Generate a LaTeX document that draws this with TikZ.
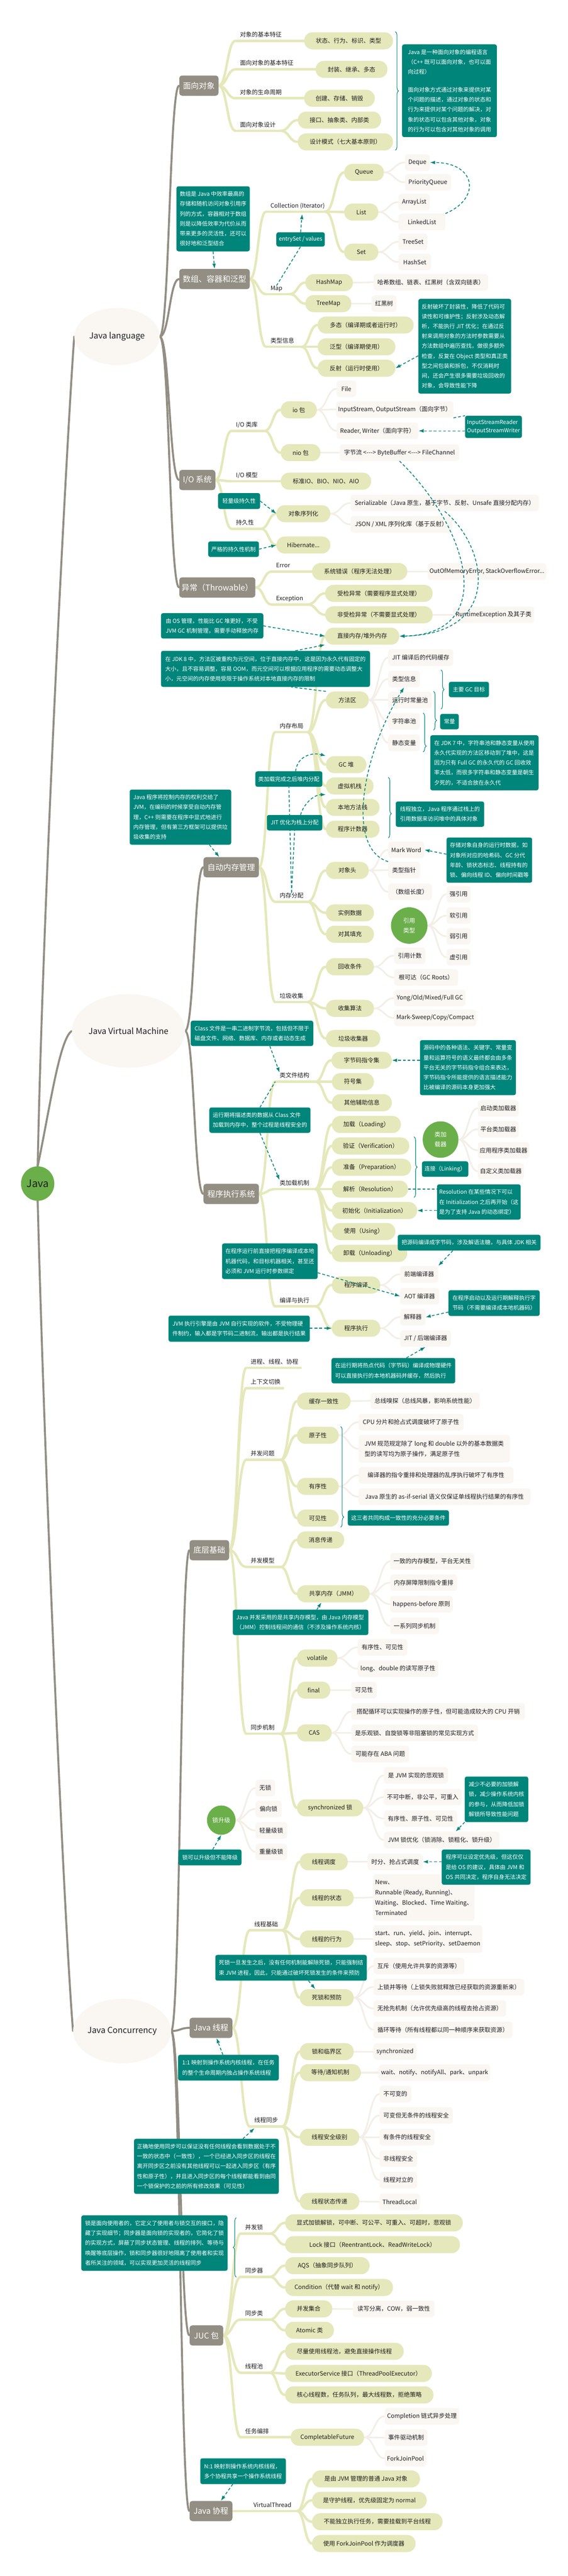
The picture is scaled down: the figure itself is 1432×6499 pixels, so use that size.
\documentclass[tikz,border=0pt]{standalone}
\usepackage{fontspec}
\setmainfont{Noto Sans CJK SC}
\usetikzlibrary{calc,arrows.meta,decorations.pathreplacing,shapes.geometric}
\definecolor{cgray}{HTML}{938E83}
\definecolor{cyel}{HTML}{E5E8BA}
\definecolor{cbei}{HTML}{FAF7F3}
\definecolor{cbeil}{HTML}{F3EEE7}
\definecolor{cteal}{HTML}{00857A}
\definecolor{cgreen}{HTML}{6BAF4B}
\definecolor{ctext}{HTML}{1E1E1E}
\pgfdeclarelayer{bg}
\pgfdeclarelayer{dash}
\pgfdeclarelayer{top}
\pgfsetlayers{bg,main,dash,top}
\newcommand\zY[6][]{\pgfmathsetmacro\myw{#4-#3}\pgfmathsetmacro\myx{(#3+#4)/2}\node[ybox,minimum width=\myw pt,#1] (#2) at (\myx,#5) {#6};}
\newcommand\zB[6][]{\pgfmathsetmacro\myw{#4-#3}\pgfmathsetmacro\myx{(#3+#4)/2}\node[bbox,minimum width=\myw pt,#1] (#2) at (\myx,#5) {#6};}
\newcommand\zG[6][]{\pgfmathsetmacro\myw{#4-#3}\pgfmathsetmacro\myx{(#3+#4)/2}\node[gbox,minimum width=\myw pt,#1] (#2) at (\myx,#5) {#6};}
\newcommand\zT[7][]{\pgfmathsetmacro\myw{#4-#3}\pgfmathsetmacro\myh{#6-#5}\pgfmathsetmacro\myx{(#3+#4)/2}\pgfmathsetmacro\myy{(#5+#6)/2}\node[tbox,minimum width=\myw pt,minimum height=\myh pt,#1] (#2) at (\myx,\myy) {#7};}
\newcommand\zL[5]{\coordinate (#1s) at (#2,#4);\coordinate (#1e) at (#3,#4);\node[lbl] (#1) at (#2+11,#4-10) {#5};}
\newcommand\cnx[3][yl]{\draw[#1] let \p1=(#2),\p2=(#3) in (\p1) .. controls ({0.5*\x1+0.5*\x2},\y1) and ({0.5*\x1+0.5*\x2},\y2) .. (\p2);}
\begin{document}
\begin{tikzpicture}[x=1pt,y=-1pt,
  ybox/.style={fill=cyel,rounded corners=21pt,minimum height=43pt,inner xsep=5pt,inner ysep=2pt,text=ctext,font=\fontsize{15}{19}\selectfont,align=center},
  bbox/.style={fill=cbei,rounded corners=8pt,minimum height=42pt,inner xsep=5pt,inner ysep=2pt,text=ctext,font=\fontsize{15}{26}\selectfont,align=left},
  gbox/.style={fill=cgray,rounded corners=7pt,minimum height=51pt,inner xsep=4pt,text=white,font=\fontsize{20}{24}\selectfont},
  tbox/.style={fill=cteal,rounded corners=5pt,inner xsep=5pt,inner ysep=3pt,text=white,font=\fontsize{14}{25}\selectfont,align=left},
  lbl/.style={anchor=base west,inner sep=0pt,text=ctext,font=\fontsize{15}{18}\selectfont},
  gcirc/.style={ellipse,fill=cgreen,text=white,inner sep=0pt,font=\fontsize{15}{25}\selectfont,align=center},
  bigc/.style={ellipse,fill=cbei,inner sep=0pt,text=ctext,font=\fontsize{21}{25}\selectfont},
  yl/.style={draw=cyel,line width=6pt,line cap=round},
  bl/.style={draw=cbeil,line width=4pt,line cap=round},
  gl/.style={draw=cgray,line width=5pt,line cap=round},
  tdash/.style={draw=cteal,line width=2pt,dash pattern=on 7pt off 5pt},
  tarr/.style={tdash,-{Latex[length=13pt,width=9pt]}},
  tbrace/.style={draw=cteal,line width=1.4pt,decorate,decoration={brace,amplitude=8pt,#1}},
  tbrace/.default={aspect=0.5}
]
\begin{pgfonlayer}{bg}
\fill[white] (0,0) rectangle (1432,6499);
\end{pgfonlayer}
\useasboundingbox (0,0) rectangle (1432,6499);

% ---------- root and level 1 ----------
\node[gcirc,minimum width=84pt,minimum height=87pt,text=ctext,font=\fontsize{26}{30}\selectfont] (java) at (95,2986) {Java};
\node[bigc,minimum width=215pt,minimum height=144pt] (jl) at (295,849) {Java language};
\node[bigc,minimum width=274pt,minimum height=186pt] (jvm) at (324,2601) {Java Virtual Machine};
\node[bigc,minimum width=242pt,minimum height=163pt] (jc) at (308,5124) {Java Concurrency};

% ---------- level 2 ----------
\zG{oo}{452}{551}{216}{面向对象}
\zG{arr}{452}{630}{704}{数组、容器和泛型}
\zG{io}{452}{543}{1211}{I/O 系统}
\zG{exc}{452}{644}{1482}{异常（Throwable）}
\zG{mem}{513}{653}{2188}{自动内存管理}
\zG{exe}{513}{653}{3012}{程序执行系统}
\zG{base}{478}{578}{3911}{底层基础}
\zG{thr}{478}{586}{5116}{Java 线程}
\zG{juc}{478}{563}{5892}{JUC 包}
\zG{coro}{478}{586}{6335}{Java 协程}

% ---------- OO ----------
\zL{l11}{594}{767}{103}{对象的基本特征}
\zL{l12}{594}{796}{175}{面向对象的基本特征}
\zL{l13}{594}{767}{248}{对象的生命周期}
\zL{l14}{594}{708}{330}{面向对象设计}
\zY{c11}{767}{991}{103}{状态、行为、标识、类型}
\zY{c12}{796}{977}{175}{封装、继承、多态}
\zY{c13}{767}{945}{248}{创建、存储、销毁}
\zY{c14a}{751}{961}{303}{接口、抽象类、内部类}
\zY{c14b}{751}{991}{358}{设计模式（七大基本原则）}

% ---------- arrays ----------
\zL{lcol}{671}{820}{534}{Collection (Iterator)}
\zL{lmap}{671}{731}{742}{Map}
\zL{ltype}{671}{760}{875}{类型信息}
\coordinate (lcolm) at (762,540);
\zY{q}{868}{968}{435}{Queue}
\zY{lst}{868}{954}{535}{List}
\zY{st}{868}{954}{636}{Set}
\zB{dq}{1021}{1084}{410}{Deque}
\zB{pq}{1021}{1137}{460}{PriorityQueue}
\zB{al}{1005}{1084}{510}{ArrayList}
\zB{ll}{1005}{1123}{560}{LinkedList}
\zB{ts}{1005}{1078}{610}{TreeSet}
\zB{hs}{1005}{1087}{661}{HashSet}
\zY{hm}{770}{890}{713}{HashMap}
\zY{tm}{770}{886}{766}{TreeMap}
\zB{hmx}{942}{1231}{712}{哈希数组、链表、红黑树（含双向链表）}
\zB{tmx}{937}{1000}{766}{红黑树}
\zY{dt}{801}{1043}{820}{多态（编译期或者运行时）}
\zY{fx}{801}{997}{875}{泛型（编译期使用）}
\zY{fs}{801}{997}{929}{反射（运行时使用）}

% ---------- IO ----------
\zL{liolib}{584}{667}{1087}{I/O 类库}
\zL{liom}{584}{708}{1214}{I/O 模型}
\zL{lpers}{584}{658}{1334}{持久性}
\zY{iob}{708}{799}{1034}{io 包}
\zY{niob}{708}{808}{1142}{nio 包}
\zB{file}{849}{898}{981}{File}
\zB{ios}{849}{1142}{1033}{InputStream, OutputStream（面向字节）}
\zB{rw}{849}{1055}{1087}{Reader, Writer（面向字符）}
\zB{nio}{857}{1158}{1142}{字节流 <-{}-{}-> ByteBuffer <-{}-{}-> FileChannel}
\zY{iom}{708}{936}{1214}{标准IO、BIO、NIO、AIO}
\zY{ser}{697}{833}{1296}{对象序列化}
\zY{hib}{697}{833}{1375}{Hibernate...}
\zB{serx}{884}{1359}{1269}{Serializable（Java 原生，基于字节、反射、Unsafe 直接分配内存）}
\zB{json}{884}{1140}{1323}{JSON / XML 序列化库（基于反射）}

% ---------- exceptions ----------
\zL{lerr}{685}{787}{1442}{Error}
\zL{lexc}{685}{776}{1525}{Exception}
\zY{err}{787}{1027}{1442}{系统错误（程序无法处理）}
\zB{oom}{1079}{1377}{1442}{OutOfMemoryError, StackOverflowError...}
\zY{chk}{820}{1091}{1497}{受检异常（需要程序显式处理）}
\zY{unchk}{820}{1091}{1551}{非受检异常（不需要显式处理）}
\zB{rte}{1142}{1347}{1551}{RuntimeException 及其子类}

% ---------- memory ----------
\zL{llay}{694}{776}{1847}{内存布局}
\zL{lalloc}{694}{776}{2275}{内存分配}
\zL{lgc}{694}{776}{2528}{垃圾收集}
\zY{dm}{820}{1007}{1605}{直接内存/堆外内存}
\zY{ma}{822}{930}{1766}{方法区}
\zB{jit}{979}{1143}{1659}{JIT 编译后的代码缓存}
\zB{ti}{979}{1059}{1713}{类型信息}
\zB{rcp}{979}{1089}{1766}{运行时常量池}
\zB{sp}{979}{1059}{1820}{字符串池}
\zB{sv}{979}{1059}{1874}{静态变量}
\zY{heap}{822}{924}{1929}{GC 堆}
\zY{vms}{822}{942}{1983}{虚拟机栈}
\zY{nms}{822}{957}{2037}{本地方法栈}
\zY{pc}{822}{957}{2092}{程序计数器}
\zY{oh}{822}{930}{2196}{对象头}
\zB{mw}{979}{1070}{2144}{Mark Word}
\zB{tp}{979}{1059}{2195}{类型指针}
\zB{alen}{979}{1089}{2250}{（数组长度）}
\zY{idata}{822}{943}{2303}{实例数据}
\zY{pad}{822}{943}{2357}{对其填充}
\node[gcirc,minimum width=92pt,minimum height=92pt] (ref) at (1032,2335) {引用\\类型};
\zB{sr}{1126}{1187}{2256}{强引用}
\zB{wr1}{1126}{1187}{2310}{软引用}
\zB{wr2}{1126}{1187}{2362}{弱引用}
\zB{pr}{1126}{1187}{2415}{虚引用}
\zY{rc}{822}{943}{2439}{回收条件}
\zB{rcnt}{994}{1073}{2411}{引用计数}
\zB{gcr}{994}{1155}{2466}{根可达（GC Roots）}
\zY{alg}{822}{943}{2544}{收集算法}
\zB{gen}{994}{1174}{2518}{Yong/Old/Mixed/Full GC}
\zB{msc}{994}{1201}{2568}{Mark-Sweep/Copy/Compact}
\zY{gcc}{822}{959}{2620}{垃圾收集器}

% ---------- execution ----------
\zL{lcf}{694}{795}{2729}{类文件结构}
\zL{lcl}{694}{795}{3000}{类加载机制}
\zL{lce}{694}{795}{3296}{编译与执行}
\zY{bc}{836}{988}{2675}{字节码指令集}
\zY{sym}{837}{943}{2729}{符号集}
\zY{oth}{837}{988}{2782}{其他辅助信息}
\zY{load}{837}{1011}{2837}{加载（Loading）}
\zY{ver}{837}{1032}{2891}{验证（Verification）}
\zY{prep}{837}{1037}{2945}{准备（Preparation）}
\zY{res}{837}{1029}{3000}{解析（Resolution）}
\zY{init}{837}{1052}{3054}{初始化（Initialization）}
\zY{use}{837}{997}{3107}{使用（Using）}
\zY{unl}{837}{1027}{3162}{卸载（Unloading）}
\node[gcirc,minimum width=90pt,minimum height=92pt] (cl) at (1111,2875) {类加\\载器};
\zB{bl1}{1205}{1308}{2796}{启动类加载器}
\zB{bl2}{1205}{1308}{2849}{平台类加载器}
\zB{bl3}{1205}{1335}{2902}{应用程序类加载器}
\zB{bl4}{1205}{1321}{2955}{自定义类加载器}
\zY{comp}{837}{959}{3242}{程序编译}
\zB{fe}{1009}{1105}{3215}{前端编译器}
\zB{aot}{1009}{1108}{3270}{AOT 编译器}
\zY{run}{837}{959}{3351}{程序执行}
\zB{intp}{1009}{1073}{3323}{解释器}
\zB{jitc}{1009}{1137}{3377}{JIT / 后端编译器}

% ---------- base ----------
\zL{lproc}{621}{758}{3451}{进程、线程、协程}
\zL{lctx}{621}{714}{3502}{上下文切换}
\zL{lcp}{621}{708}{3683}{并发问题}
\zL{lcm}{621}{708}{3953}{并发模型}
\zL{lsync}{621}{708}{4374}{同步机制}
\zY{cc}{749}{884}{3535}{缓存一致性}
\zB{cc1}{934}{1210}{3534}{总线嗅探（总线风暴，影响系统性能）}
\zY{atom}{749}{854}{3621}{原子性}
\zB{at1}{904}{1169}{3588}{CPU 分片和抢占式调度破坏了原子性}
\zB[minimum height=70pt]{at2}{904}{1286}{3655}{JVM 规范规定除了 long 和 double 以外的基本数据类\\型的读写均为原子操作，满足原子性}
\zY{ord}{749}{854}{3750}{有序性}
\zB{or1}{904}{1295}{3722}{编译器的指令重排和处理器的乱序执行破坏了有序性}
\zB{or2}{904}{1338}{3776}{Java 原生的 as-if-serial 语义仅保证单线程执行结果的有序性}
\zY{vis}{749}{854}{3830}{可见性}
\zY{msg}{749}{868}{3885}{消息传递}
\zY{shm}{749}{932}{4021}{共享内存（JMM）}
\zB{sh1}{984}{1196}{3939}{一致的内存模型，平台无关性}
\zB{sh2}{984}{1153}{3993}{内存屏障限制指令重排}
\zB{sh3}{984}{1142}{4047}{happens-before 原则}
\zB{sh4}{984}{1107}{4102}{一系列同步机制}
\zY{vol}{749}{851}{4183}{volatile}
\zB{vo1}{902}{1027}{4156}{有序性、可见性}
\zB{vo2}{902}{1105}{4210}{long、double 的读写原子性}
\zY{fin}{749}{833}{4264}{final}
\zB{fi1}{886}{950}{4264}{可见性}
\zY{cas}{749}{836}{4372}{CAS}
\zB{ca1}{886}{1324}{4318}{搭配循环可以实现操作的原子性，但可能造成较大的 CPU 开销}
\zB{ca2}{886}{1205}{4372}{是乐观锁、自旋锁等非阻塞锁的常见实现方式}
\zB{ca3}{886}{1032}{4425}{可能存在 ABA 问题}
\zY{syn}{749}{916}{4561}{synchronized 锁}
\zB{sy1}{968}{1130}{4479}{是 JVM 实现的悲观锁}
\zB{sy2}{968}{1164}{4534}{不可中断，非公平，可重入}
\zB{sy3}{968}{1153}{4588}{有序性、原子性、可见性}
\zB{sy4}{968}{1260}{4642}{JVM 锁优化（锁消除、锁粗化、锁升级）}
\node[gcirc,minimum width=72pt,minimum height=74pt] (lu) at (558,4592) {锁升级};
\zB{lu1}{644}{694}{4511}{无锁}
\zB{lu2}{644}{710}{4564}{偏向锁}
\zB{lu3}{644}{724}{4618}{轻量级锁}
\zB{lu4}{644}{724}{4672}{重量级锁}

% ---------- threads ----------
\zL{lthb}{630}{712}{4870}{线程基础}
\zL{lths}{630}{712}{5365}{线程同步}
\coordinate (lthsm) at (642,5369);
\zY{tsch}{756}{877}{4697}{线程调度}
\zB{ts1}{927}{1066}{4697}{时分、抢占式调度}
\zY{tst}{756}{892}{4788}{线程的状态}
\zB[minimum height=118pt]{tst1}{942}{1196}{4787}{New、\\Runnable (Ready, Running)、\\Waiting、Blocked、Time Waiting、\\Terminated}
\zY{tbh}{756}{892}{4892}{线程的行为}
\zB[minimum height=70pt]{tbh1}{942}{1215}{4892}{start、run、yield、join、interrupt、\\sleep、stop、setPriority、setDaemon}
\zY{dl}{756}{892}{5040}{死锁和预防}
\zB{dl1}{942}{1171}{4960}{互斥（使用允许共享的资源等）}
\zB{dl2}{942}{1322}{5013}{上锁并等待（上锁失败就释放已经获取的资源重新来）}
\zB{dl3}{942}{1276}{5067}{无抢先机制（允许优先级高的线程去抢占资源）}
\zB{dl4}{942}{1292}{5121}{循环等待（所有线程都以同一种顺序来获取资源）}
\zY{lcs}{756}{892}{5176}{锁和临界区}
\zB{lcs1}{942}{1050}{5176}{synchronized}
\zY{wn}{756}{910}{5229}{等待/通知机制}
\zB{wn1}{961}{1231}{5229}{wait、notify、notifyAll、park、unpark}
\zY{tsl}{756}{906}{5392}{线程安全级别}
\zB{tsl1}{957}{1037}{5283}{不可变的}
\zB{tsl2}{957}{1142}{5337}{可变但无条件的线程安全}
\zB{tsl3}{957}{1096}{5392}{有条件的线程安全}
\zB{tsl4}{957}{1052}{5446}{非线程安全}
\zB{tsl5}{957}{1052}{5500}{线程对立的}
\zY{tsp}{756}{906}{5554}{线程状态传递}
\zB{tsp1}{957}{1059}{5555}{ThreadLocal}

% ---------- JUC ----------
\zL{ljl}{607}{680}{5635}{并发锁}
\zL{ljs}{607}{680}{5744}{同步器}
\zL{ljc}{607}{680}{5852}{同步类}
\zL{ljp}{607}{680}{5986}{线程池}
\zL{ljt}{607}{733}{6149}{任务编排}
\zY{jl1}{719}{1167}{5608}{显式加锁解锁，可中断、可公平、可重入、可超时，悲观锁}
\zY{jl2}{719}{1160}{5663}{Lock 接口（ReentrantLock、ReadWriteLock）}
\zY{js1}{719}{932}{5716}{AQS（抽象同步队列）}
\zY{js2}{719}{991}{5771}{Condition（代替 wait 和 notify）}
\zY{jc1}{719}{838}{5825}{并发集合}
\zB{jc1a}{890}{1096}{5825}{读写分离，COW，弱一致性}
\zY{jc2}{719}{842}{5879}{Atomic 类}
\zY{jp1}{719}{1018}{5932}{尽量使用线程池，避免直接操作线程}
\zY{jp2}{719}{1089}{5988}{ExecutorService 接口（ThreadPoolExecutor）}
\zY{jp3}{719}{1093}{6042}{核心线程数，任务队列，最大线程数，拒绝策略}
\zY{cf}{733}{918}{6149}{CompletableFuture}
\zB{cf1}{970}{1158}{6096}{Completion 链式异步处理}
\zB{cf2}{970}{1078}{6150}{事件驱动机制}
\zB{cf3}{970}{1075}{6202}{ForkJoinPool}

% ---------- coroutine ----------
\coordinate (lvte) at (749,6335);
\node[lbl] (lvt) at (639,6325) {VirtualThread};
\zY{vt1}{787}{1059}{6254}{是由 JVM 管理的普通 Java 对象}
\zY{vt2}{787}{1076}{6308}{是守护线程，优先级固定为 normal}
\zY{vt3}{787}{1116}{6362}{不能独立执行任务，需要挂载到平台线程}
\zY{vt4}{787}{1048}{6417}{使用 ForkJoinPool 作为调度器}

% ---------- teal notes ----------
\begin{pgfonlayer}{top}
\zT{noo}{1014}{1253}{112}{346}{Java 是一种面向对象的编程语言\\（C++ 既可以面向对象，也可以面\\向过程）\\[20pt]面向对象方式通过对象来提供对某\\个问题的描述，通过对象的状态和\\行为来提供对某个问题的解决，对\\象的状态可以包含其他对象，对象\\的行为可以包含对其他对象的调用}
\zT{narr}{445}{630}{470}{634}{数组是 Java 中效率最高的\\存储和随机访问对象引用序\\列的方式，容器相对于数组\\则是以降低效率为代价从而\\带来更多的灵活性，还可以\\很好地和泛型结合}
\zT{nes}{697}{819}{586}{622}{entrySet / values}
\zT{nref}{1055}{1289}{754}{993}{反射破坏了封装性，降低了代码可\\读性和可维护性；反射涉及动态解\\析，不能执行 JIT 优化；在通过反\\射来调用对象的方法时参数需要从\\方法数组中遍历查找，做很多额外\\检查，反复在 Object 类型和真正类\\型之间包装和拆包，不仅消耗时\\间，还会产生很多需要垃圾回收的\\对象，会导致性能下降}
\zT[font=\fontsize{14}{20}\selectfont]{isr}{1174}{1315}{1049}{1105}{InputStreamReader\\OutputStreamWriter}
\zT{light}{550}{656}{1244}{1284}{轻量级持久性}
\zT{strict}{525}{653}{1366}{1405}{严格的持久性机制}
\zT{nos}{406}{664}{1547}{1611}{由 OS 管理，性能比 GC 堆更好，不受\\JVM GC 机制管理，需要手动释放内存}
\zT{jdk8}{406}{933}{1642}{1733}{在 JDK 8 中，方法区被重构为元空间，位于直接内存中，这是因为永久代有固定的\\大小，且不容易调整，容易 OOM，而元空间可以根据应用程序的需要动态调整大\\小，元空间的内存使用受限于操作系统对本地直接内存的限制}
\zT{gct}{1132}{1233}{1720}{1759}{主要 GC 目标}
\zT{ncst}{1110}{1157}{1801}{1840}{常量}
\zT{jdk7}{1085}{1358}{1855}{1994}{在 JDK 7 中，字符串池和静态变量从使用\\永久代实现的方法区移动到了堆中，这是\\因为只有 Full GC 的永久代的 GC 回收效\\率太低，而很多字符串和静态变量是朝生\\夕死的，不适合放在永久代}
\zT{thi}{998}{1221}{2022}{2086}{线程独立，Java 程序通过栈上的\\引用数据来访问堆中的具体对象}
\zT{clc}{644}{813}{1946}{1985}{类加载完成之后堆内分配}
\zT{jits}{673}{813}{2056}{2095}{JIT 优化为栈上分配}
\zT{jmem}{327}{583}{1992}{2131}{Java 程序将控制内存的权利交给了\\JVM，在编码的时候享受自动内存管\\理，C++ 则需要在程序中显式地进行\\内存管理，但有第三方框架可以提供垃\\圾收集的支持}
\zT{mwn}{1126}{1342}{2113}{2227}{存储对象自身的运行时数据，如\\对象所对应的哈希码、GC 分代\\年龄、锁状态标志、线程持有的\\锁、偏向线程 ID、偏向时间戳等}
\zT{ncls}{481}{790}{2575}{2639}{Class 文件是一串二进制字节流，包括但不限于\\磁盘文件、网络、数据库、内存或者动态生成}
\zT{bcn}{1059}{1301}{2624}{2763}{源码中的各种语法、关键字、常量变\\量和运算符号的语义最终都会由多条\\平台无关的字节码指令组合来表达，\\字节码指令所能提供的语言描述能力\\比被编译的源码本身更加强大}
\zT{rtl}{528}{783}{2794}{2858}{运行期将描述类的数据从 Class 文件\\加载到内存中，整个过程是线程安全的}
\zT{link}{1064}{1181}{2930}{2969}{连接（Linking）}
\zT{resn}{1102}{1313}{2988}{3077}{Resolution 在某些情况下可以\\在 Initialization 之后再开始（这\\是为了支持 Java 的动态绑定）}
\zT{fen}{1003}{1363}{3115}{3155}{把源码编译成字节码，涉及解语法糖，与具体 JDK 相关}
\zT{aotn}{560}{801}{3137}{3227}{在程序运行前直接把程序编译成本地\\机器代码，和目标机器相关，甚至还\\必须和 JVM 运行时参数绑定}
\zT{intn}{1131}{1361}{3255}{3320}{在程序启动以及运行期解释执行字\\节码（不需要编译成本地机器码）}
\zT{jvmn}{425}{781}{3319}{3385}{JVM 执行引擎是由 JVM 自行实现的软件，不受物理硬\\件制约，输入都是字节码二进制流，输出都是执行结果}
\zT{jitn}{836}{1148}{3426}{3490}{在运行期将热点代码（字节码）编译成物理硬件\\可以直接执行的本地机器码并缓存，然后执行}
\zT{three}{877}{1132}{3810}{3849}{这三者共同构成一致性的充分必要条件}
\zT{jmmn}{587}{929}{4061}{4125}{Java 并发采用的是共享内存模型，由 Java 内存模型\\（JMM）控制线程间的通信（不涉及操作系统内核）}
\zT{lockn}{1172}{1332}{4482}{4597}{减少不必要的加锁解\\锁，减少操作系统内核\\的参与，从而降低加锁\\解锁所导致性能问题}
\zT{lun}{450}{609}{4666}{4706}{锁可以升级但不能降级}
\zT{prin}{1114}{1338}{4666}{4755}{程序可以设定优先级，但这仅仅\\是给 OS 的建议，具体由 JVM 和\\OS 共同决定，程序自身无法决定}
\zT{dln}{543}{925}{4932}{4997}{死锁一旦发生之后，没有任何机制能解除死锁，只能强制结\\束 JVM 进程，因此，只能通过破坏死锁发生的条件来预防}
\zT{oneone}{449}{703}{5184}{5249}{1:1 映射到操作系统内核线程，在任务\\的整个生命周期内独占操作系统线程}
\zT{syncn}{338}{703}{5396}{5535}{正确地使用同步可以保证没有任何线程会看到数据处于不\\一致的状态中（一致性），一个已经进入同步区的线程在\\离开同步区之前没有其他线程可以一起进入同步区（有序\\性和原子性），并且进入同步区的每个线程都能看到由同\\一个锁保护的之前的所有修改效果（可见性）}
\zT{jucn}{205}{574}{5589}{5729}{锁是面向使用者的，它定义了使用者与锁交互的接口，隐\\藏了实现细节；同步器是面向锁的实现者的，它简化了锁\\的实现方式，屏蔽了同步状态管理、线程的排列、等待与\\唤醒等底层操作，锁和同步器很好地隔离了使用者和实现\\者所关注的领域，可以实现更加灵活的线程同步}
\zT{n1}{505}{721}{6202}{6267}{N:1 映射到操作系统内核线程，\\多个协程共享一个操作系统线程}
\end{pgfonlayer}

% ---------- solid connectors ----------
\begin{pgfonlayer}{bg}
\draw[gl] (java.north) .. controls (110,2200) and (175,1000) .. (jl.west);
\draw[gl] (java.north) .. controls (125,2800) and (150,2620) .. (jvm.west);
\draw[gl] (java.south) .. controls (115,3800) and (165,4900) .. (jc.west);
\cnx[gl]{jl.east}{oo.west}\cnx[gl]{jl.east}{arr.west}\cnx[gl]{jl.east}{io.west}\cnx[gl]{jl.east}{exc.west}
\cnx[gl]{jvm.east}{mem.west}\cnx[gl]{jvm.east}{exe.west}
\cnx[gl]{jc.east}{base.west}\cnx[gl]{jc.east}{thr.west}\cnx[gl]{jc.east}{juc.west}\cnx[gl]{jc.east}{coro.west}
% OO
\cnx{oo.east}{l11s}\draw[yl] (l11s) -- (c11.west);
\cnx{oo.east}{l12s}\draw[yl] (l12s) -- (c12.west);
\cnx{oo.east}{l13s}\draw[yl] (l13s) -- (c13.west);
\cnx{oo.east}{l14s}\draw[yl] (l14s) -- (l14e);
\cnx{l14e}{c14a.west}\cnx{l14e}{c14b.west}
% arrays
\cnx{arr.east}{lcols}\draw[yl] (lcols) -- (lcole);
\cnx{lcole}{q.west}\cnx{lcole}{lst.west}\cnx{lcole}{st.west}
\cnx[bl]{q.east}{dq.west}\cnx[bl]{q.east}{pq.west}
\cnx[bl]{lst.east}{al.west}\cnx[bl]{lst.east}{ll.west}
\cnx[bl]{st.east}{ts.west}\cnx[bl]{st.east}{hs.west}
\cnx{arr.east}{lmaps}\draw[yl] (lmaps) -- (lmape);
\cnx{lmape}{hm.west}\cnx{lmape}{tm.west}
\cnx[bl]{hm.east}{hmx.west}\cnx[bl]{tm.east}{tmx.west}
\cnx{arr.east}{ltypes}\draw[yl] (ltypes) -- (ltypee);
\cnx{ltypee}{dt.west}\cnx{ltypee}{fx.west}\cnx{ltypee}{fs.west}
% IO
\cnx{io.east}{liolibs}\draw[yl] (liolibs) -- (liolibe);
\cnx{liolibe}{iob.west}\cnx{liolibe}{niob.west}
\cnx[bl]{iob.east}{file.west}\cnx[bl]{iob.east}{ios.west}\cnx[bl]{iob.east}{rw.west}
\cnx[bl]{niob.east}{nio.west}
\cnx{io.east}{lioms}\draw[yl] (lioms) -- (iom.west);
\cnx{io.east}{lperss}\draw[yl] (lperss) -- (lperse);
\cnx{lperse}{ser.west}\cnx{lperse}{hib.west}
\cnx[bl]{ser.east}{serx.west}\cnx[bl]{ser.east}{json.west}
% exceptions
\cnx{exc.east}{lerrs}\draw[yl] (lerrs) -- (err.west);
\cnx[bl]{err.east}{oom.west}
\cnx{exc.east}{lexcs}\draw[yl] (lexcs) -- (lexce);
\cnx{lexce}{chk.west}\cnx{lexce}{unchk.west}
\cnx[bl]{unchk.east}{rte.west}
% memory
\cnx{mem.east}{llays}\draw[yl] (llays) -- (llaye);
\cnx{llaye}{dm.west}\cnx{llaye}{ma.west}\cnx{llaye}{heap.west}\cnx{llaye}{vms.west}\cnx{llaye}{nms.west}\cnx{llaye}{pc.west}
\cnx[bl]{ma.east}{jit.west}\cnx[bl]{ma.east}{ti.west}\cnx[bl]{ma.east}{rcp.west}\cnx[bl]{ma.east}{sp.west}\cnx[bl]{ma.east}{sv.west}
\cnx{mem.east}{lallocs}\draw[yl] (lallocs) -- (lalloce);
\cnx{lalloce}{oh.west}\cnx{lalloce}{idata.west}\cnx{lalloce}{pad.west}
\cnx[bl]{oh.east}{mw.west}\cnx[bl]{oh.east}{tp.west}\cnx[bl]{oh.east}{alen.west}
\cnx[bl]{ref.east}{sr.west}\cnx[bl]{ref.east}{wr1.west}\cnx[bl]{ref.east}{wr2.west}\cnx[bl]{ref.east}{pr.west}
\cnx{mem.east}{lgcs}\draw[yl] (lgcs) -- (lgce);
\cnx{lgce}{rc.west}\cnx{lgce}{alg.west}\cnx{lgce}{gcc.west}
\cnx[bl]{rc.east}{rcnt.west}\cnx[bl]{rc.east}{gcr.west}
\cnx[bl]{alg.east}{gen.west}\cnx[bl]{alg.east}{msc.west}
% execution
\cnx{exe.east}{lcfs}\draw[yl] (lcfs) -- (lcfe);
\cnx{lcfe}{bc.west}\cnx{lcfe}{sym.west}\cnx{lcfe}{oth.west}
\cnx{exe.east}{lcls}\draw[yl] (lcls) -- (lcle);
\cnx{lcle}{load.west}\cnx{lcle}{ver.west}\cnx{lcle}{prep.west}\cnx{lcle}{res.west}\cnx{lcle}{init.west}\cnx{lcle}{use.west}\cnx{lcle}{unl.west}
\cnx[bl]{cl.east}{bl1.west}\cnx[bl]{cl.east}{bl2.west}\cnx[bl]{cl.east}{bl3.west}\cnx[bl]{cl.east}{bl4.west}
\cnx{exe.east}{lces}\draw[yl] (lces) -- (lcee);
\cnx{lcee}{comp.west}\cnx{lcee}{run.west}
\cnx[bl]{comp.east}{fe.west}\cnx[bl]{comp.east}{aot.west}
\cnx[bl]{run.east}{intp.west}\cnx[bl]{run.east}{jitc.west}
% base
\cnx{base.east}{lprocs}\draw[yl] (lprocs) -- (lproce);
\cnx{base.east}{lctxs}\draw[yl] (lctxs) -- (lctxe);
\cnx{base.east}{lcps}\draw[yl] (lcps) -- (lcpe);
\cnx{lcpe}{cc.west}\cnx{lcpe}{atom.west}\cnx{lcpe}{ord.west}\cnx{lcpe}{vis.west}
\cnx[bl]{cc.east}{cc1.west}\cnx[bl]{atom.east}{at1.west}\cnx[bl]{atom.east}{at2.west}\cnx[bl]{ord.east}{or1.west}\cnx[bl]{ord.east}{or2.west}
\cnx{base.east}{lcms}\draw[yl] (lcms) -- (lcme);
\cnx{lcme}{msg.west}\cnx{lcme}{shm.west}
\cnx[bl]{shm.east}{sh1.west}\cnx[bl]{shm.east}{sh2.west}\cnx[bl]{shm.east}{sh3.west}\cnx[bl]{shm.east}{sh4.west}
\cnx{base.east}{lsyncs}\draw[yl] (lsyncs) -- (lsynce);
\cnx{lsynce}{vol.west}\cnx{lsynce}{fin.west}\cnx{lsynce}{cas.west}\cnx{lsynce}{syn.west}
\cnx[bl]{vol.east}{vo1.west}\cnx[bl]{vol.east}{vo2.west}\cnx[bl]{fin.east}{fi1.west}
\cnx[bl]{cas.east}{ca1.west}\cnx[bl]{cas.east}{ca2.west}\cnx[bl]{cas.east}{ca3.west}
\cnx[bl]{syn.east}{sy1.west}\cnx[bl]{syn.east}{sy2.west}\cnx[bl]{syn.east}{sy3.west}\cnx[bl]{syn.east}{sy4.west}
\cnx[bl]{lu.east}{lu1.west}\cnx[bl]{lu.east}{lu2.west}\cnx[bl]{lu.east}{lu3.west}\cnx[bl]{lu.east}{lu4.west}
% threads
\cnx{thr.east}{lthbs}\draw[yl] (lthbs) -- (lthbe);
\cnx{lthbe}{tsch.west}\cnx{lthbe}{tst.west}\cnx{lthbe}{tbh.west}\cnx{lthbe}{dl.west}
\cnx[bl]{tsch.east}{ts1.west}\cnx[bl]{tst.east}{tst1.west}\cnx[bl]{tbh.east}{tbh1.west}
\cnx[bl]{dl.east}{dl1.west}\cnx[bl]{dl.east}{dl2.west}\cnx[bl]{dl.east}{dl3.west}\cnx[bl]{dl.east}{dl4.west}
\cnx{thr.east}{lthss}\draw[yl] (lthss) -- (lthse);
\cnx{lthse}{lcs.west}\cnx{lthse}{wn.west}\cnx{lthse}{tsl.west}\cnx{lthse}{tsp.west}
\cnx[bl]{lcs.east}{lcs1.west}\cnx[bl]{wn.east}{wn1.west}
\cnx[bl]{tsl.east}{tsl1.west}\cnx[bl]{tsl.east}{tsl2.west}\cnx[bl]{tsl.east}{tsl3.west}\cnx[bl]{tsl.east}{tsl4.west}\cnx[bl]{tsl.east}{tsl5.west}
\cnx[bl]{tsp.east}{tsp1.west}
% JUC
\cnx{juc.east}{ljls}\draw[yl] (ljls) -- (ljle);\cnx{ljle}{jl1.west}\cnx{ljle}{jl2.west}
\cnx{juc.east}{ljss}\draw[yl] (ljss) -- (ljse);\cnx{ljse}{js1.west}\cnx{ljse}{js2.west}
\cnx{juc.east}{ljcs}\draw[yl] (ljcs) -- (ljce);\cnx{ljce}{jc1.west}\cnx{ljce}{jc2.west}
\cnx[bl]{jc1.east}{jc1a.west}
\cnx{juc.east}{ljps}\draw[yl] (ljps) -- (ljpe);\cnx{ljpe}{jp1.west}\cnx{ljpe}{jp2.west}\cnx{ljpe}{jp3.west}
\cnx{juc.east}{ljts}\draw[yl] (ljts) -- (cf.west);
\cnx[bl]{cf.east}{cf1.west}\cnx[bl]{cf.east}{cf2.west}\cnx[bl]{cf.east}{cf3.west}
% coroutine
\draw[yl] (coro.east) -- (lvte);
\cnx{lvte}{vt1.west}\cnx{lvte}{vt2.west}\cnx{lvte}{vt3.west}\cnx{lvte}{vt4.west}
\end{pgfonlayer}

% ---------- dashed notes links and braces ----------
\begin{pgfonlayer}{dash}
\draw[tarr] (narr.south) -- (arr.north);
\draw[tarr] (ll.north east) .. controls (1215,500) and (1200,410) .. (dq.east);
\draw[tdash] (lmap.north) -- (nes.south);
\draw[tarr] (nes.north) -- (lcolm);
\draw[tarr] ($(nref.west)+(0,24)$) -- (fs.east);
\draw[tdash] (ios.south east) -- (isr.north west);
\draw[tarr] (isr.west |- rw.east) -- (rw.east);
\draw[tarr] (nio.south) .. controls (1180,1330) and (1260,1600) .. (dm.east);
\draw[tarr] (serx.south) .. controls (1230,1380) and (1270,1600) .. (dm.east);
\draw[tarr] (light.east) -- (ser.west);
\draw[tarr] (strict.east) -- (hib.west);
\draw[tarr] (nos.east) -- (dm.west);
\draw[tarr] ($(jdk8.north)+(75,0)$) -- (dm.south west);
\draw[tdash] (ma.north west) -- ($(jdk8.south)+(65,0)$);
\draw[tarr] (tp.north west) .. controls (870,2140) and (915,1900) .. (ti.south);
\draw[tdash] (lalloc.north) -- (clc.south);
\draw[tarr] ($(clc.north)+(17,0)$) .. controls (750,1905) and (790,1898) .. (heap.north west);
\draw[tdash] (lalloc.north) -- (jits.south);
\draw[tarr] ($(jits.north)+(15,0)$) .. controls (765,2030) and (790,2005) .. (vms.south west);
\draw[tarr] ($(jmem.south)+(73,0)$) -- ($(mem.north)+(-30,0)$);
\draw[tarr] ($(mwn.west)+(0,-15)$) -- (mw.east);
\draw[tarr] ($(ncls.south)+(45,0)$) -- (lcf.north west);
\draw[tdash] (rtl.north) -- (lcfs);
\draw[tarr] (rtl.south) -- (lcl.north west);
\draw[tarr] (bcn.west |- bc.east) -- (bc.east);
\draw[tdash] (res.east) -- (resn.west |- res.east);
\draw[tarr] (resn.west |- init.east) -- (init.east);
\draw[tarr] ($(fen.south)+(-41,0)$) -- (fe.north east);
\draw[tarr] ($(aotn.east)+(0,29)$) -- (aot.west);
\draw[tarr] ($(intn.south west)+(0,-10)$) -- (intp.east);
\draw[tarr] (jvmn.east |- run.west) -- (run.west);
\draw[tarr] ($(jitn.north)+(33,0)$) -- (jitc.south);
\draw[tarr] ($(jmmn.north)+(41,0)$) -- ($(shm.south)+(-30,0)$);
\draw[tarr] (lockn.south west) -- ($(sy4.north)+(35,0)$);
\draw[tarr] ($(lun.north)+(7,0)$) -- (lu.south);
\draw[tarr] (prin.west |- ts1.east) -- (ts1.east);
\draw[tarr] ($(dln.south)+(44,0)$) -- ($(dl.north)+(-29,0)$);
\draw[tarr] ($(oneone.north)+(-14,0)$) -- ($(thr.south)+(14,0)$);
\draw[tarr] ($(syncn.north)+(92,0)$) -- (lthsm);
\draw[tarr] ($(n1.south)+(-26,0)$) -- ($(coro.north)+(25,0)$);
% braces
\draw[tbrace] (997,80) -- (997,379);
\draw[tbrace] (1112,1690) -- (1112,1789);
\draw[tbrace={aspect=0.75}] (1093,1744) -- (1093,1842);
\draw[tbrace={aspect=0.85}] (1067,1799) -- (1067,1897);
\draw[tbrace={aspect=0.6}] (979,1961) -- (979,2114);
\draw[tbrace] (1044,2868) -- (1044,3021);
\draw[tbrace={aspect=0.9}] (859,3599) -- (859,3853);
\draw[tbrace] (596,5745) -- (596,5595);
\end{pgfonlayer}
\end{tikzpicture}
\end{document}
